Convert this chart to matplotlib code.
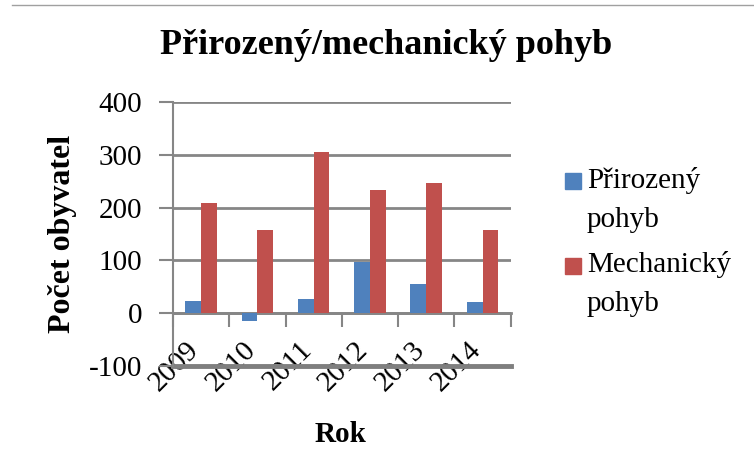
import matplotlib
matplotlib.use("Agg")
import matplotlib.pyplot as plt
import matplotlib.transforms as mtransforms
from matplotlib.patches import Rectangle
from matplotlib.lines import Line2D
import numpy as np

roky = ["2009", "2010", "2011", "2012", "2013", "2014"]
prirozeny = [23, -16, 27, 96, 56, 20]
mechanicky = [209, 158, 306, 234, 246, 158]
y_ticks = [-100, 0, 100, 200, 300, 400]

modra = "#4F81BD"
cervena = "#C0504D"
seda = "#868686"

plt.rcParams['font.family'] = ['Liberation Serif', 'DejaVu Serif']
plt.rcParams['axes.unicode_minus'] = False

fig = plt.figure(figsize=(7.54, 4.55), dpi=100)
ax = fig.add_axes([0.2294, 0.1963, 0.4479, 0.5789])

x = np.arange(len(roky))
w = 0.28
ax.bar(x - w / 2, prirozeny, w, color=modra, zorder=3)
ax.bar(x + w / 2, mechanicky, w, color=cervena, zorder=3)

ax.set_xlim(-0.5, len(roky) - 0.5)
ax.set_ylim(-100, 400)
ax.set_yticks(y_ticks)
ax.tick_params(axis='y', labelsize=21, length=10, width=1.5, color=seda, pad=12)
ax.yaxis.grid(True, color=seda, lw=2, zorder=1)
ax.set_axisbelow(True)

# osa x prochazi nulou, hranice kategorii jako vedlejsi ticky
ax.spines['bottom'].set_position(('data', 0))
ax.spines['bottom'].set_color(seda)
ax.spines['bottom'].set_linewidth(2)
ax.spines['left'].set_color(seda)
ax.spines['left'].set_linewidth(1.5)
ax.spines['top'].set_visible(False)
ax.spines['right'].set_visible(False)
ax.set_xticks(x)
ax.set_xticks(np.arange(len(roky) + 1) - 0.5, minor=True)
ax.tick_params(axis='x', which='minor', length=10, width=1.5, color=seda)
ax.tick_params(axis='x', which='major', length=0, pad=17)
ax.set_xticklabels(roky, fontsize=21, rotation=45, ha='right', rotation_mode='anchor')
off = mtransforms.ScaledTranslation(-15 / 100, 0, fig.dpi_scale_trans)
for lab in ax.get_xticklabels():
    lab.set_transform(lab.get_transform() + off)

ax.axhline(-100, color="#7f7f7f", lw=3.5, zorder=2, clip_on=False)

ax.set_ylabel("Počet obyvatel", fontsize=23, fontweight='bold', va='center')
ax.yaxis.set_label_coords(-0.326, 0.5)
fig.text(0.452, 0.046, "Rok", fontsize=21, fontweight='bold', ha='center', va='center')
fig.text(0.512, 0.901, "Přirozený/mechanický pohyb", fontsize=26, fontweight='bold',
         ha='center', va='center')

# legenda: ctverec u prvniho radku, text zarovnany na posledni radek
labels = [("Přirozený\npohyb", modra), ("Mechanický\npohyb", cervena)]
first_base = [189, 274]
last_base = [227, 311]
for (txt, c), y1, y2 in zip(labels, first_base, last_base):
    fig.patches.append(Rectangle((565 / 754, 1 - y1 / 455), 16 / 754, 16 / 455,
                                 transform=fig.transFigure, color=c))
    fig.text(587 / 754, 1 - y2 / 455, txt, fontsize=21, ha='left', va='baseline',
             linespacing=1.63)

fig.add_artist(Line2D([12 / 754, 1], [1 - 5 / 455, 1 - 5 / 455], color="#a0a0a0", lw=1,
                      transform=fig.transFigure))

fig.savefig("out.png", dpi=100)
